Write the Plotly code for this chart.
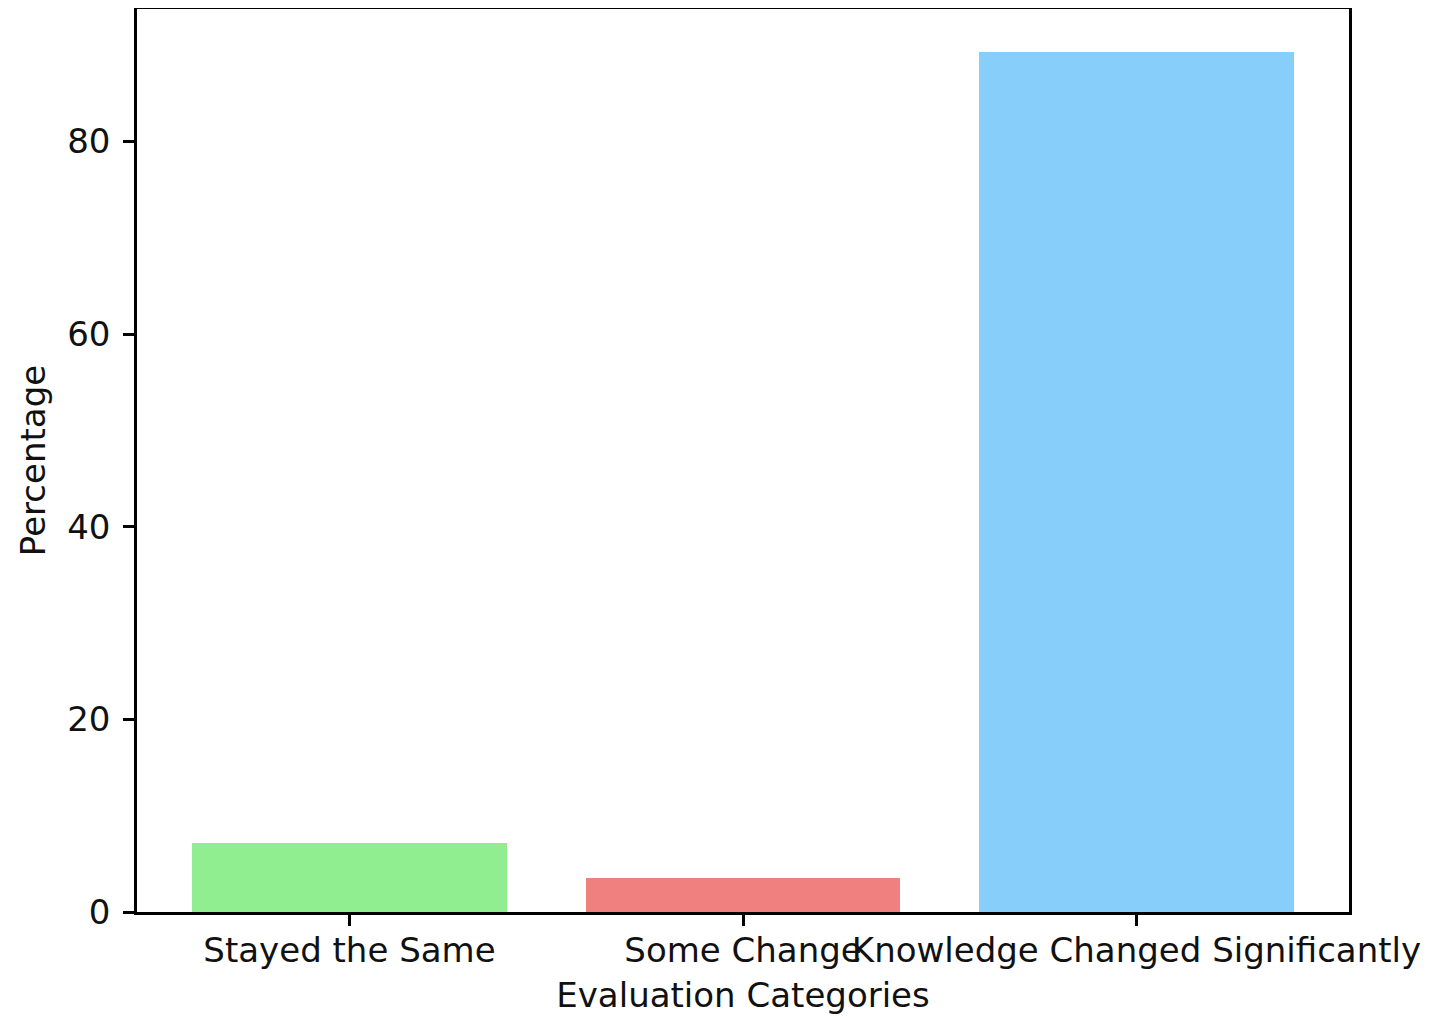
import plotly.graph_objects as go

categories = ["Stayed the Same", "Some Change", "Knowledge Changed Significantly"]
percentages = [7.14, 3.57, 89.29]
colors = ["#90EE90", "#F08080", "#87CEFA"]
y_ticks = [0, 20, 40, 60, 80]

FONT = "DejaVu Sans"
FS = 34

fig = go.Figure(
    go.Bar(
        x=list(range(len(categories))),
        y=percentages,
        width=0.8,
        marker=dict(color=colors, line=dict(width=0)),
    )
)

axis_common = dict(
    showline=True,
    linecolor="black",
    linewidth=2.5,
    mirror=True,
    showgrid=False,
    zeroline=False,
    ticks="outside",
    ticklen=11,
    tickwidth=2.5,
    tickcolor="black",
    tickfont=dict(family=FONT, size=FS, color="#111111"),
)

fig.update_layout(
    width=1450,
    height=1017,
    margin=dict(l=129, r=109, t=1, b=113, autoexpand=False),
    paper_bgcolor="white",
    plot_bgcolor="white",
    showlegend=False,
    bargap=0,
    xaxis=dict(
        axis_common,
        range=[-0.54, 2.54],
        tickvals=list(range(len(categories))),
        ticktext=categories,
        tickangle=0,
        ticklabelstandoff=-5,
        title=dict(text="Evaluation Categories", font=dict(family=FONT, size=FS, color="#111111"), standoff=15),
        automargin=False,
    ),
    yaxis=dict(
        axis_common,
        range=[0, 93.75],
        tickvals=y_ticks,
        ticklabelstandoff=6,
        title=dict(text="Percentage", font=dict(family=FONT, size=FS, color="#111111"), standoff=12),
        automargin=False,
    ),
)

fig.write_html("out.html")
